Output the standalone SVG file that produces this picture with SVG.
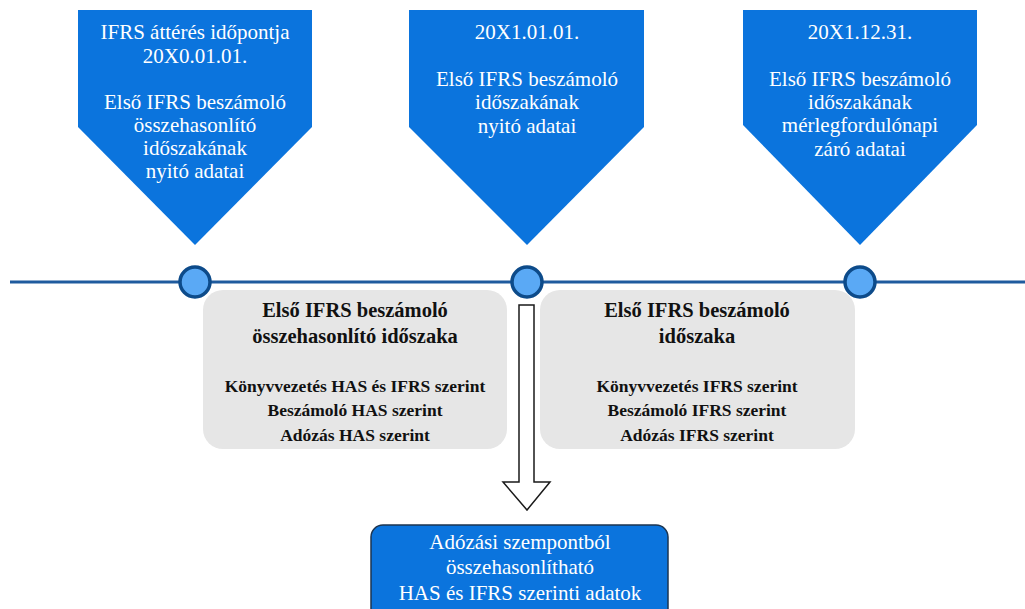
<svg xmlns="http://www.w3.org/2000/svg" width="1025" height="609" viewBox="0 0 1025 609">
<defs>
<style>
.pent{fill:#0b74dd;}
.wt{font-family:"Liberation Serif","Times New Roman",serif;font-size:21px;fill:#ffffff;text-anchor:middle;}
.gbox{fill:#e6e6e6;}
.bt{font-family:"Liberation Serif","Times New Roman",serif;font-weight:bold;fill:#111111;text-anchor:middle;}
.t1{font-size:20.5px;}
.t2{font-size:17.5px;}
.dot{fill:#5aa9f5;stroke:#0d4b8a;stroke-width:3.5;}
.tl{stroke:#1f5b9e;stroke-width:3;fill:none;}
.arr{fill:#ffffff;stroke:#1a1a1a;stroke-width:1.5;}
.res{fill:#0b74dd;stroke:#1d3550;stroke-width:1.5;}
</style>
</defs>
<rect width="1025" height="609" fill="#ffffff"/>
<g id="connectors">
<line class="tl" x1="10" y1="282" x2="1025" y2="282"/>
<polygon id="arrow" class="arr" points="519,305 534,305 534,482 550,482 527,510 503,482 519,482"/>
</g>
<g id="node-p1">
<polygon class="pent" points="78,10 312,10 312,127 195,245 78,127"/>
<text class="wt" x="195" y="39">IFRS &#225;tt&#233;r&#233;s id&#337;pontja</text>
<text class="wt" x="195" y="63">20X0.01.01.</text>
<text class="wt" x="195" y="109">Els&#337; IFRS besz&#225;mol&#243;</text>
<text class="wt" x="195" y="132">&#246;sszehasonl&#237;t&#243;</text>
<text class="wt" x="195" y="155">id&#337;szak&#225;nak</text>
<text class="wt" x="195" y="178">nyit&#243; adatai</text>
</g>
<g id="node-p2">
<polygon class="pent" points="409,10 644,10 644,127 527,245 409,127"/>
<text class="wt" x="527" y="39">20X1.01.01.</text>
<text class="wt" x="527" y="86">Els&#337; IFRS besz&#225;mol&#243;</text>
<text class="wt" x="527" y="109">id&#337;szak&#225;nak</text>
<text class="wt" x="527" y="133">nyit&#243; adatai</text>
</g>
<g id="node-p3">
<polygon class="pent" points="743,10 977,10 977,125 860,245 743,125"/>
<text class="wt" x="860" y="39">20X1.12.31.</text>
<text class="wt" x="860" y="86">Els&#337; IFRS besz&#225;mol&#243;</text>
<text class="wt" x="860" y="109">id&#337;szak&#225;nak</text>
<text class="wt" x="860" y="132">m&#233;rlegfordul&#243;napi</text>
<text class="wt" x="860" y="156">z&#225;r&#243; adatai</text>
</g>
<g id="node-d1"><circle class="dot" cx="195" cy="282" r="15"/></g>
<g id="node-d2"><circle class="dot" cx="527" cy="282" r="15"/></g>
<g id="node-d3"><circle class="dot" cx="860" cy="282" r="15"/></g>
<g id="node-g1">
<rect class="gbox" x="203" y="290" width="304" height="159" rx="20"/>
<text class="bt t1" x="355" y="317">Els&#337; IFRS besz&#225;mol&#243;</text>
<text class="bt t1" x="355" y="343">&#246;sszehasonl&#237;t&#243; id&#337;szaka</text>
<text class="bt t2" x="355" y="392">K&#246;nyvvezet&#233;s HAS &#233;s IFRS szerint</text>
<text class="bt t2" x="355" y="416">Besz&#225;mol&#243; HAS szerint</text>
<text class="bt t2" x="355" y="441">Ad&#243;z&#225;s HAS szerint</text>
</g>
<g id="node-g2">
<rect class="gbox" x="540" y="290" width="315" height="159" rx="20"/>
<text class="bt t1" x="697" y="317">Els&#337; IFRS besz&#225;mol&#243;</text>
<text class="bt t1" x="697" y="343">id&#337;szaka</text>
<text class="bt t2" x="697" y="392">K&#246;nyvvezet&#233;s IFRS szerint</text>
<text class="bt t2" x="697" y="416">Besz&#225;mol&#243; IFRS szerint</text>
<text class="bt t2" x="697" y="441">Ad&#243;z&#225;s IFRS szerint</text>
</g>
<g id="node-result">
<rect class="res" x="371" y="525" width="297" height="100" rx="12"/>
<text class="wt" x="520" y="549">Ad&#243;z&#225;si szempontb&#243;l</text>
<text class="wt" x="520" y="574">&#246;sszehasonl&#237;that&#243;</text>
<text class="wt" x="520" y="600">HAS &#233;s IFRS szerinti adatok</text>
</g>
</svg>
